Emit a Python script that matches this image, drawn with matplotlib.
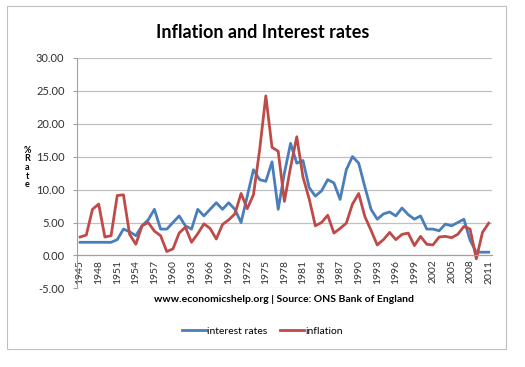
import numpy as np
import matplotlib
matplotlib.use("Agg")
import matplotlib.pyplot as plt
from matplotlib.patches import Rectangle

years = list(range(1945, 2012))

interest_rates = [2.0, 2.0, 2.0, 2.0, 2.0, 2.0, 2.4, 4.0, 3.6, 3.0,
                  4.5, 5.4, 7.0, 4.0, 4.0, 5.0, 6.0, 4.5, 4.0, 7.0,
                  6.0, 7.0, 8.0, 7.0, 8.0, 7.0, 5.0, 9.0, 13.0, 11.5,
                  11.25, 14.2, 7.0, 12.5, 17.0, 14.0, 14.4, 10.3, 9.0, 9.8,
                  11.5, 11.0, 8.5, 13.0, 15.0, 14.0, 10.4, 7.0, 5.5, 6.3,
                  6.6, 6.0, 7.2, 6.2, 5.5, 6.0, 4.0, 4.0, 3.75, 4.75,
                  4.5, 5.0, 5.5, 2.3, 0.5, 0.5, 0.5]

inflation = [2.8, 3.1, 7.0, 7.8, 2.8, 3.0, 9.1, 9.2, 3.2, 1.7,
             4.5, 5.0, 3.7, 3.0, 0.6, 1.0, 3.4, 4.3, 2.0, 3.3,
             4.8, 4.1, 2.5, 4.7, 5.4, 6.3, 9.4, 7.1, 9.2, 16.0,
             24.2, 16.4, 15.8, 8.2, 13.4, 18.0, 11.9, 8.6, 4.5, 5.0,
             6.1, 3.4, 4.1, 4.9, 7.8, 9.4, 5.9, 3.8, 1.6, 2.4,
             3.5, 2.4, 3.2, 3.4, 1.5, 2.9, 1.7, 1.6, 2.8, 2.9,
             2.7, 3.2, 4.4, 4.0, -0.5, 3.5, 4.9]

yticks = [-5, 0, 5, 10, 15, 20, 25, 30]

plt.rcParams['font.family'] = ['Lato', 'DejaVu Sans']

fig = plt.figure(figsize=(5.25, 3.67), dpi=100)
fig.patches.append(Rectangle((0.013, 0.048), 0.95, 0.935, transform=fig.transFigure,
                             fill=False, edgecolor='#bfbfbf', linewidth=0.8))

ax = fig.add_axes([0.1467, 0.214, 0.790, 0.629])
x = np.arange(len(years))
ax.plot(x, interest_rates, color='#4a7ebb', lw=2.0, label='interest rates')
ax.plot(x, inflation, color='#be4b48', lw=2.0, label='inflation')

# spine position first, it resets the tick styling
for s in ['top', 'right']:
    ax.spines[s].set_visible(False)
ax.spines['bottom'].set_position(('data', 0))
ax.spines['bottom'].set_color('#a0a0a0')
ax.spines['left'].set_color('#a0a0a0')

ax.set_xlim(-0.5, len(years) - 0.5)
ax.set_ylim(-5, 30)
ax.set_yticks(yticks)
ax.set_yticklabels(['%.2f' % v for v in yticks], fontsize=8, color='#303030')
ax.yaxis.grid(True, color='#c0c0c0', lw=0.9)
ax.set_axisbelow(True)

ax.set_xticks(x[::3])
ax.set_xticklabels([str(y) for y in years[::3]], rotation=90, fontsize=7.5, color='#303030')
ax.tick_params(axis='x', length=0, pad=3)
ax.tick_params(axis='y', length=3, color='#a0a0a0', pad=6)

fig.text(0.5, 0.912, 'Inflation and Interest rates', ha='center', va='center',
         fontsize=13, fontweight='bold')
fig.text(0.54, 0.185, 'www.economicshelp.org | Source: ONS Bank of England',
         ha='center', va='center', fontsize=7.5, fontweight='bold')
fig.text(0.052, 0.603, '%\nR\na\nt\ne', ha='center', va='top', fontsize=6.5,
         fontweight='bold', linespacing=0.95)

ax.legend(loc='center', bbox_to_anchor=(0.5, 0.097), bbox_transform=fig.transFigure,
          ncol=2, frameon=False, fontsize=7.5, handlelength=2.3, handletextpad=0.1,
          columnspacing=1.2)

fig.savefig('out.png', dpi=100)
